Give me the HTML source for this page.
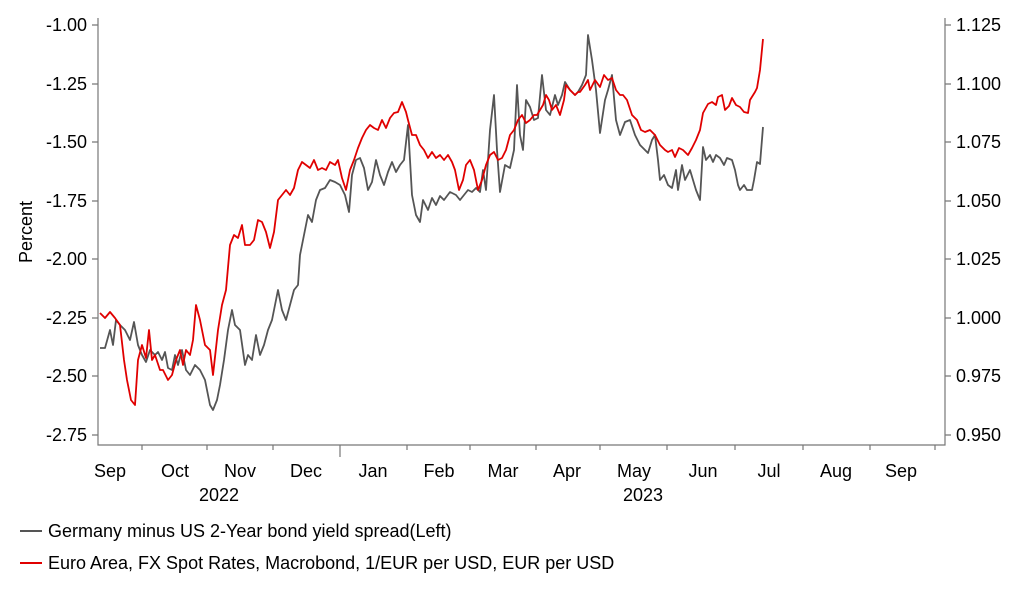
<!DOCTYPE html><html><head><style>body{margin:0;background:#fff}svg{display:block}text{font-family:"Liberation Sans",Arial,sans-serif;fill:#000}</style></head><body>
<svg width="1022" height="597" viewBox="0 0 1022 597">
<g stroke="#777" stroke-width="1.2" fill="none">
<path d="M98,18V445H945V18"/>
<path d="M92,25h6M92,84h6M92,142h6M92,201h6M92,259h6M92,318h6M92,376h6M92,435h6"/>
<path d="M945,25h6M945,84h6M945,142h6M945,201h6M945,259h6M945,318h6M945,376h6M945,435h6"/>
<path d="M142,445v5M207,445v5M273,445v5M340,445v12M407,445v5M470,445v5M536,445v5M600,445v5M667,445v5M735,445v5M803,445v5M870,445v5M935,445v5"/>
</g>
<g font-size="18" text-anchor="end">
<text x="87" y="31">-1.00</text><text x="87" y="90">-1.25</text><text x="87" y="148">-1.50</text><text x="87" y="207">-1.75</text><text x="87" y="265">-2.00</text><text x="87" y="324">-2.25</text><text x="87" y="382">-2.50</text><text x="87" y="441">-2.75</text>
</g>
<g font-size="18">
<text x="956" y="31">1.125</text><text x="956" y="90">1.100</text><text x="956" y="148">1.075</text><text x="956" y="207">1.050</text><text x="956" y="265">1.025</text><text x="956" y="324">1.000</text><text x="956" y="382">0.975</text><text x="956" y="441">0.950</text>
</g>
<text font-size="18" transform="translate(32,232) rotate(-90)" text-anchor="middle">Percent</text>
<g font-size="18" text-anchor="middle">
<text x="110" y="477">Sep</text><text x="175" y="477">Oct</text><text x="240" y="477">Nov</text><text x="306" y="477">Dec</text><text x="373" y="477">Jan</text><text x="439" y="477">Feb</text><text x="503" y="477">Mar</text><text x="567" y="477">Apr</text><text x="634" y="477">May</text><text x="703" y="477">Jun</text><text x="769" y="477">Jul</text><text x="836" y="477">Aug</text><text x="901" y="477">Sep</text>
<text x="219" y="501">2022</text><text x="643" y="501">2023</text>
</g>
<polyline fill="none" stroke="#555" stroke-width="1.8" stroke-linejoin="round" points="100,348 105,348 110,330 113,345 116,320 120,325 125,330 130,340 134,322 138,345 142,355 146,362 150,350 155,355 158,352 162,360 165,352 168,368 172,370 175,355 178,365 182,350 186,370 190,375 195,365 200,370 205,380 210,405 213,410 217,400 220,385 224,360 228,330 232,310 235,325 240,330 245,365 248,355 252,360 256,335 260,355 264,345 268,330 272,320 275,305 278,290 282,310 286,320 290,305 294,290 298,285 300,255 305,230 308,215 312,222 316,200 320,190 325,188 330,180 335,182 340,185 345,195 349,212 352,175 356,160 360,158 364,168 368,190 372,182 376,160 380,175 384,185 388,172 392,162 396,172 400,165 404,160 408,125 412,195 416,215 420,222 423,200 428,210 432,198 436,205 440,196 444,200 450,192 456,195 460,200 464,195 468,190 472,192 476,188 480,192 483,170 486,190 490,130 494,95 497,150 500,192 505,165 510,168 514,150 517,85 520,135 523,150 526,100 530,107 534,120 538,118 542,75 546,110 550,115 555,95 558,105 562,95 565,82 570,90 575,95 578,92 582,85 586,75 588,35 592,60 596,90 600,133 605,100 608,90 612,75 616,120 620,135 625,122 630,120 635,135 640,145 645,150 648,153 652,140 655,135 658,160 660,180 664,175 668,185 672,188 676,170 678,190 682,165 685,180 690,170 693,180 696,190 700,200 703,147 706,160 710,155 713,162 716,155 720,158 724,165 727,158 732,160 735,170 738,185 740,190 744,185 747,190 752,190 754,180 757,162 760,164 763,127"/>
<polyline fill="none" stroke="#e00000" stroke-width="1.8" stroke-linejoin="round" points="100,313 105,318 110,312 115,318 120,325 124,360 127,380 131,400 135,405 138,360 142,345 146,358 149,330 152,360 155,355 160,370 163,370 168,380 172,375 176,360 180,350 183,365 186,350 190,355 193,340 196,305 200,320 205,345 210,350 213,375 218,330 222,305 226,290 230,245 234,235 238,238 242,225 245,245 250,245 254,240 258,220 262,222 266,232 270,248 274,232 278,200 282,195 286,190 290,195 294,188 298,170 302,162 306,165 310,168 314,160 318,170 322,168 326,170 330,162 335,165 338,160 342,178 346,190 350,170 354,160 358,148 362,138 366,130 370,125 374,128 378,130 382,120 386,128 390,118 394,113 398,112 402,102 406,112 408,120 412,135 416,135 420,145 424,150 428,158 432,152 436,158 440,155 444,160 448,155 452,162 455,170 459,190 463,180 466,165 470,160 474,170 478,190 482,180 486,165 490,155 494,152 498,160 502,158 506,150 510,135 514,130 518,120 522,115 526,123 530,120 534,115 537,115 540,110 543,105 546,95 549,100 552,110 556,105 560,115 564,100 566,85 570,90 575,95 578,92 580,92 585,85 588,80 590,90 595,80 600,87 604,75 608,80 612,78 616,90 620,95 623,95 627,100 632,115 637,120 641,130 645,132 650,130 655,135 660,145 665,150 668,152 672,150 675,157 679,148 683,150 688,155 692,148 696,140 700,130 703,113 708,104 712,102 716,105 718,97 722,95 725,110 729,106 732,98 736,105 740,107 744,112 748,113 750,100 755,92 757,88 760,70 763,39"/>
<line x1="20" y1="531" x2="42" y2="531" stroke="#555" stroke-width="2"/>
<line x1="20" y1="563" x2="42" y2="563" stroke="#e00000" stroke-width="2"/>
<text x="48" y="537" font-size="18">Germany minus US 2-Year bond yield spread(Left)</text>
<text x="48" y="569" font-size="18">Euro Area, FX Spot Rates, Macrobond, 1/EUR per USD, EUR per USD</text>
</svg></body></html>
